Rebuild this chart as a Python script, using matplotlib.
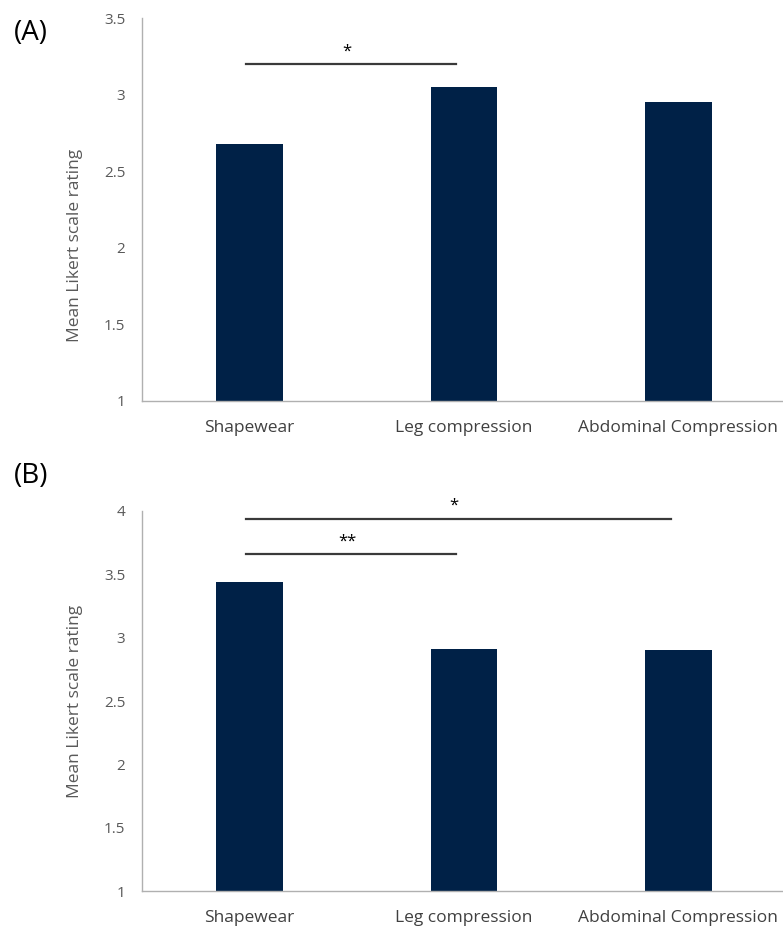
import matplotlib
matplotlib.use('Agg')
import matplotlib.pyplot as plt

plt.rcParams['font.family'] = ['Open Sans', 'DejaVu Sans']

categories = ['Shapewear', 'Leg compression', 'Abdominal Compression']
means_a = [2.68, 3.05, 2.95]
means_b = [3.44, 2.91, 2.90]
ticks_a = [1, 1.5, 2, 2.5, 3, 3.5]
ticks_b = [1, 1.5, 2, 2.5, 3, 3.5, 4]
# significance brackets: (start bar, end bar, height, stars)
sig_a = [(0, 1, 3.20, '*')]
sig_b = [(0, 2, 3.94, '*'), (0, 1, 3.66, '**')]

bar_color = '#002147'
axis_color = '#b0b0b0'
tick_color = '#595959'


def draw_panel(ax, means, ticks, sigs, panel_label, label_y, ylabel_pos):
      x = list(range(len(categories)))
      ax.bar(x, means, width=0.31, color=bar_color, bottom=0, zorder=2)
      ax.set_xlim(-0.5, len(categories) - 0.5)
      ax.set_ylim(ticks[0], ticks[-1])
      ax.set_yticks(ticks)
      ax.set_yticklabels([f'{t:g}' for t in ticks])
      ax.set_xticks(x)
      ax.set_xticklabels(categories, fontsize=12.5, color='#404040')
      ax.tick_params(axis='y', length=0, pad=12, labelsize=11, labelcolor=tick_color)
      ax.tick_params(axis='x', length=0, pad=14)
      for side in ['top', 'right']:
            ax.spines[side].set_visible(False)
      for side in ['left', 'bottom']:
            ax.spines[side].set_color(axis_color)
            ax.spines[side].set_linewidth(1)
      ax.set_ylabel('Mean Likert scale rating', fontsize=12.5, color=tick_color)
      ax.yaxis.set_label_coords(-0.092, ylabel_pos)
      for start, end, height, stars in sigs:
            x0 = start - 0.015
            x1 = end - 0.035
            ax.plot([x0, x1], [height, height], color='#3a3a3a', linewidth=1.6, clip_on=False)
            ax.text((x0 + x1) / 2 - 0.02, height + (ticks[-1] - ticks[0]) * 0.012, stars,
                    ha='center', va='bottom', fontsize=12, color='black')
      ax.figure.text(0.018, label_y, panel_label, fontsize=20, va='center', ha='left')


fig = plt.figure(figsize=(7.83, 9.34), dpi=100)
ax_a = fig.add_axes([0.1814, 0.5707, 0.822, 0.41])
ax_b = fig.add_axes([0.1814, 0.046, 0.822, 0.4069])

draw_panel(ax_a, means_a, ticks_a, sig_a, '(A)', 0.9647, 0.405)
draw_panel(ax_b, means_b, ticks_b, sig_b, '(B)', 0.490, 0.5)

fig.savefig('out.png', dpi=100)
